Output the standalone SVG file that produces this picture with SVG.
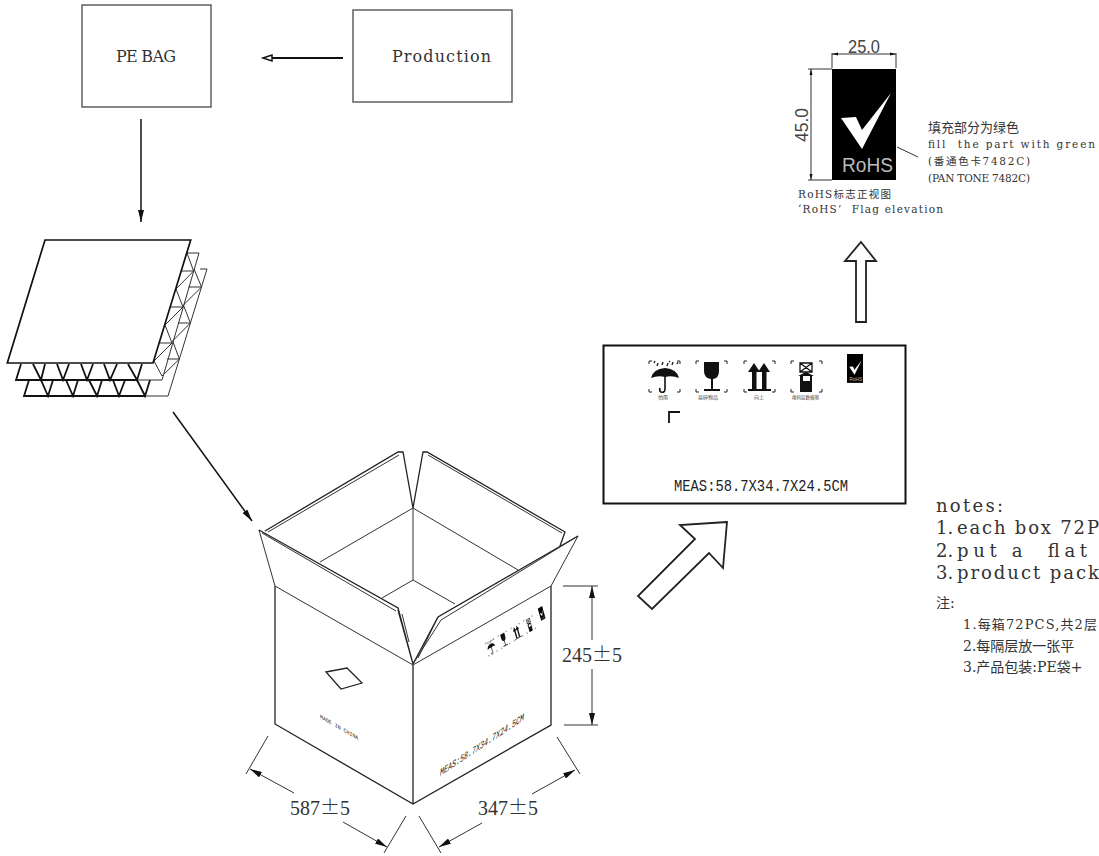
<svg xmlns="http://www.w3.org/2000/svg" width="1099" height="856" viewBox="0 0 1099 856">
<style>
text{font-family:"DejaVu Serif","Noto Sans CJK SC",serif;fill:#333;white-space:pre}
.cjk{font-family:"Noto Sans CJK SC","DejaVu Serif",sans-serif}
.mono{font-family:"Liberation Mono",monospace;fill:#222}
.dim{font-family:"Liberation Serif","Noto Sans CJK SC",serif;font-size:20px}
.pm{font-family:"Noto Sans CJK SC",sans-serif;font-weight:300}
.sans{font-family:"Liberation Sans",sans-serif;fill:#444;font-size:19px;font-weight:300}
.ln{fill:none;stroke:#222;stroke-width:1.3}
.thin{fill:none;stroke:#333;stroke-width:1}
.box{fill:#fff;stroke:#555;stroke-width:1.400}
.conn{fill:none;stroke:#111;stroke-width:1.500}
.big{fill:#fff;stroke:#222;stroke-width:1.800;stroke-linejoin:miter}
.blk{fill:#111}
.lab{font-size:5px;fill:#444}
</style>
<defs>
<marker id="ah" viewBox="0 0 12 6" refX="12" refY="3" markerWidth="12" markerHeight="6" markerUnits="userSpaceOnUse" orient="auto"><path d="M0 0L12 3L0 6Z" fill="#111"/></marker>
<path id="corners" d="M0 3V0H3M28 0H31V3M0 28V31H3M28 31H31V28" fill="none" stroke="#222" stroke-width="1"/>
<g id="rohs">
<rect x="832" y="69" width="64" height="111" fill="#000"/>
<polygon points="841,118 856,117 862,130 891,93 862,149" fill="#fff"/>
<text x="842" y="172" font-size="20" textLength="51" lengthAdjust="spacingAndGlyphs" style="font-family:'Liberation Sans',sans-serif;fill:#bbb">RoHS</text>
</g>
<g id="icons">
<use href="#corners" x="649" y="361"/>
<use href="#corners" x="696" y="361"/>
<use href="#corners" x="744" y="361"/>
<use href="#corners" x="791" y="361"/>
<path class="blk" d="M651 378Q653 369 665 368Q677 369 679 378Q672 375 665 377Q658 375 651 378Z"/>
<path d="M665 376V389Q665 393 661 392Q659 391 660 388" fill="none" stroke="#111" stroke-width="1.600"/>
<path d="M657 366l1-3M662 365l1-3M667 366l1-3M672 365l1-3M677 364l1-2M654 363l1-2M669 362l1-1" stroke="#222" stroke-width="1.400" fill="none"/>
<path class="blk" d="M704 362H719V371Q719 378 713 379V389H720V391H704V389H711V379Q704 378 704 371Z"/>
<path class="blk" d="M754 363L760 372H756.500V389H752V372H748ZM764 363L770 372H766.500V389H762V372H758Z"/>
<rect class="blk" x="748" y="389" width="23" height="2"/>
<path d="M800 363H812V372H800ZM800 363L812 372M812 363L800 372" fill="none" stroke="#111" stroke-width="1.300"/>
<path class="blk" d="M798 376L806 372L814 376ZM800 376H812V392H800Z"/>
<rect x="803" y="376" width="7" height="5" fill="#fff"/>
</g>
</defs>

<g id="connectors">
<path d="M343 58H270" fill="none" stroke="#111" stroke-width="2"/>
<path d="M263 58L272 55V61Z" fill="#fff" stroke="#111" stroke-width="1.500"/>
<path class="conn" marker-end="url(#ah)" d="M141 119V222"/>
<path class="conn" marker-end="url(#ah)" d="M173 412L252 521"/>
<path class="big" d="M861 242L876 261H866V322H856V261H845Z"/>
<path class="big" d="M727 522L680 525L695 539L638 596L652 609L709 553L723 568Z"/>
</g>

<g id="pe-bag"><rect class="box" x="82" y="5" width="129" height="102"/><text x="116" y="62" font-size="16" textLength="60">PE BAG</text></g>
<g id="production"><rect class="box" x="353" y="10" width="159" height="92"/><text x="392" y="62" font-size="16" textLength="99">Production</text></g>

<g id="corrugated-sheets">
<path class="thin" d="M145 396H168L207 269H200M138 380H162L199 253H187"/>
<path class="thin" d="M187 253L193.600 271L176 289L183 307L165 325L172 343L154 361L162 376M181 271H193.600M170 307H183M159 343H172"/>
<path class="thin" d="M194 269L201.500 287L183.400 305L190.400 323L172.600 341L179.400 359L162 376M188.500 287H201.500M178 323H190.400M167 359H179.400"/>
<path d="M21 364L16 380H138M33 364L41 380L45 364M57 364L63 380L69 364M81 364L87 380L93 364M104 364L110 380L117 364M128 364L137 380L142 364" fill="none" stroke="#111" stroke-width="1.800"/>
<path d="M29 380L24 396H145M41 380L48 396L53 380M66 380L73 396L78 380M89 380L97 396L102 380M113 380L119 396L125 380M137 380L145 396L150 380" fill="none" stroke="#111" stroke-width="1.800"/>
<polygon points="45,240 190.700,240 153,363 7.300,363" fill="#fff" stroke="#111" stroke-width="1.700"/>
</g>

<g id="carton">
<path class="ln" d="M275 586V724L413 804L551 725V586M413 665V804"/>
<path class="thin" d="M275 586L413 665L551 586"/>
<path class="thin" d="M413 508V580M320 562L413 508L518 570M382 598L413 580L455 604"/>
<path class="thin" d="M259 530L275 586M578 536L551 586"/>
<path class="ln" d="M265 531L398 452H403L413 508L423 452H427L565 532L560 546"/>
<path class="thin" d="M268 532L399 455M428 455L562 533"/>
<path class="ln" d="M259 530L398 608L413 664L398 610M578 536L438 617L413 664"/>
<path class="thin" d="M262 533L396 611M578 536L441 620L413 664M438 617L418 658M409 642L402 614"/>
<path class="ln" d="M326 672L347 668L362 683L341 689Z"/>
<text class="mono" transform="matrix(.87,.5,0,1,320,718)" font-size="5.500" textLength="44" lengthAdjust="spacingAndGlyphs">MADE IN CHINA</text>
<text class="mono" transform="matrix(.832,-.555,0,1,440,776)" font-size="10" textLength="101" lengthAdjust="spacingAndGlyphs" font-style="italic">MEAS:58.7X34.7X24.5CM</text>
<use href="#icons" transform="matrix(.27,-.16,.12,.42,266.600,595.500)"/>
<use href="#rohs" transform="matrix(.27,-.16,.12,.42,266.600,595.500) translate(847,354) scale(.25,.26) translate(-832,-69)"/>
</g>

<g id="dimensions">
<path class="thin" d="M563 586H598M564 725H598M268 736L246 774M406 816L384 853M557 737L580 774M419 816L441 853"/>
<path class="thin" marker-end="url(#ah)" d="M592 640V586"/>
<path class="thin" marker-end="url(#ah)" d="M592 669V725"/>
<path class="thin" marker-end="url(#ah)" d="M294 793L250 769"/>
<path class="thin" marker-end="url(#ah)" d="M343 822L387 847"/>
<path class="thin" marker-end="url(#ah)" d="M532 794L575 770"/>
<path class="thin" marker-end="url(#ah)" d="M482 823L439 847"/>
<text class="dim" x="562" y="662">245<tspan class="pm">±</tspan>5</text>
<text class="dim" x="290" y="815">587<tspan class="pm">±</tspan>5</text>
<text class="dim" x="478" y="815">347<tspan class="pm">±</tspan>5</text>
</g>

<g id="carton-side-panel">
<rect x="603.500" y="345.500" width="302" height="158" fill="#fff" stroke="#111" stroke-width="2"/>
<use href="#icons"/>
<use href="#rohs" transform="translate(847,354) scale(.25,.26) translate(-832,-69)"/>
<path d="M669 423V412H680" fill="none" stroke="#111" stroke-width="1.800"/>
<text class="cjk lab" x="658" y="399">怕雨</text>
<text class="cjk lab" x="698" y="399">易碎物品</text>
<text class="cjk lab" x="754" y="399">向上</text>
<text class="cjk lab" x="792" y="399" style="font-size:4.500px">堆码层数极限</text>
<text class="mono" x="674" y="491" font-size="17" textLength="174" lengthAdjust="spacingAndGlyphs">MEAS:58.7X34.7X24.5CM</text>
</g>

<g id="rohs-flag">
<use href="#rohs"/>
<path class="thin" d="M832 53V68M896 53V68M832 54H896M808 69H832M808 180H832M811 69V180M897 147L918 157"/>
<path class="blk" d="M832 54l6-1.500v3ZM896 54l-6-1.500v3ZM811 69l-1.500 6h3ZM811 180l-1.500-6h3Z"/>
<text class="sans" x="848" y="53" textLength="32" lengthAdjust="spacingAndGlyphs">25.0</text>
<text class="sans" transform="translate(808,125) rotate(-90)" x="-17" y="0" textLength="34" lengthAdjust="spacingAndGlyphs">45.0</text>
<text class="cjk" x="928" y="132" font-size="13">填充部分为绿色</text>
<text x="928" y="148" font-size="10.500" textLength="167">fill  the part with green</text>
<text x="928" y="165" font-size="10.500" textLength="102">(番通色卡7482C)</text>
<text x="928" y="182" font-size="10.500" textLength="102">(PAN TONE 7482C)</text>
<text x="798" y="198" font-size="10.500" textLength="93">RoHS标志正视图</text>
<text x="798" y="213" font-size="10.500" textLength="145">‘RoHS’  Flag elevation</text>
</g>

<g id="notes">
<text x="936" y="512" font-size="18" textLength="67">notes:</text>
<text x="936" y="534" font-size="18">1.</text><text x="957" y="534" font-size="18" textLength="142">each box 72P</text>
<text x="936" y="557" font-size="18">2.</text><text x="957" y="557" font-size="18" textLength="130">put a  flat</text>
<text x="936" y="579" font-size="18">3.</text><text x="957" y="579" font-size="18" textLength="142">product pack</text>
<text x="936" y="608" font-size="14">注:</text>
<text x="963" y="629" font-size="13" textLength="134">1.每箱72PCS,共2层</text>
<text x="963" y="651" font-size="14">2.每隔层放一张平</text>
<text x="963" y="672" font-size="14">3.产品包装:PE袋+</text>
</g>
</svg>
